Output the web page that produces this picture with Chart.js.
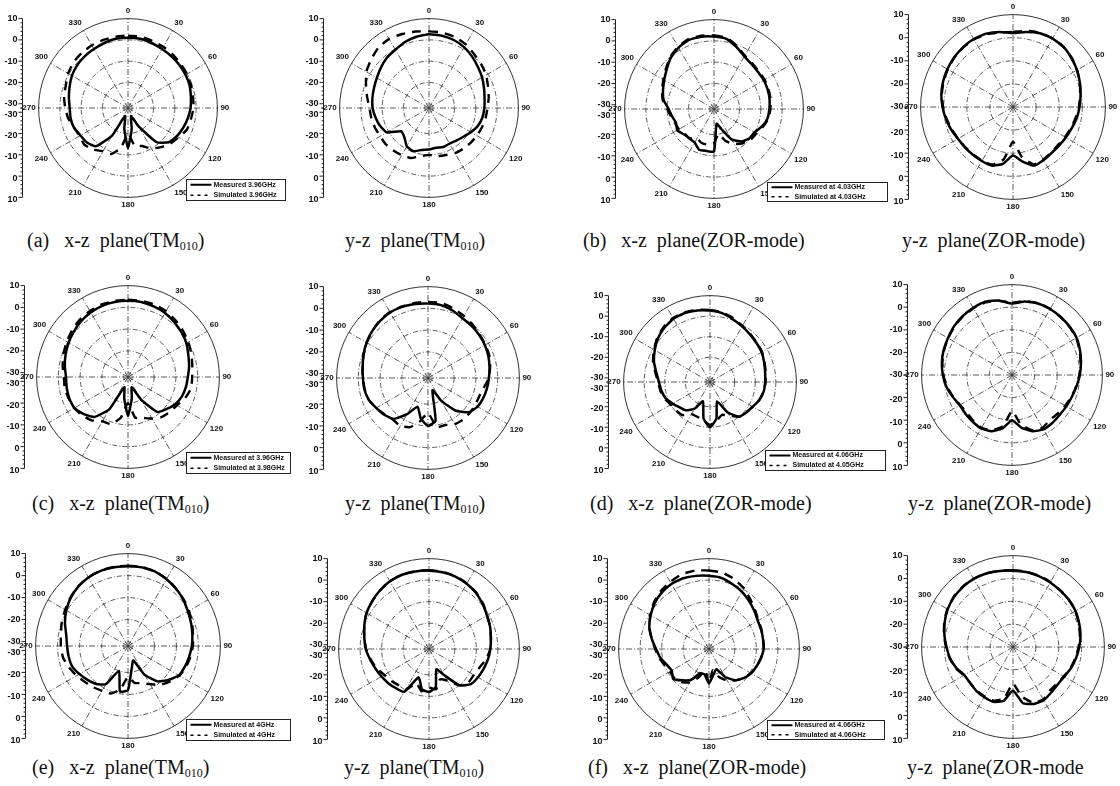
<!DOCTYPE html>
<html>
<head>
<meta charset="utf-8">
<script src="https://cdn.jsdelivr.net/npm/chart.js@4.4.0/dist/chart.umd.min.js"></script>
<style>
body { margin: 0; background: #fff; width: 1120px; height: 786px; position: relative; overflow: hidden; }
canvas { position: absolute; }
.cap { position: absolute; font-family: "Liberation Serif", "Times New Roman", serif; font-size: 20px; line-height: 24px; color: #111; white-space: pre; }
.cap sub { font-size: 12px; vertical-align: -3px; line-height: 0; }
</style>
</head>
<body>
<div class="cap" style="left:27px;top:228px">(a)   x-z  plane(TM<sub>010</sub>)</div>
<div class="cap" style="left:345px;top:228px">y-z  plane(TM<sub>010</sub>)</div>
<div class="cap" style="left:583px;top:228px">(b)   x-z  plane(ZOR-mode)</div>
<div class="cap" style="left:902px;top:228px">y-z  plane(ZOR-mode)</div>
<div class="cap" style="left:32px;top:491px">(c)   x-z  plane(TM<sub>010</sub>)</div>
<div class="cap" style="left:345px;top:491px">y-z  plane(TM<sub>010</sub>)</div>
<div class="cap" style="left:590px;top:491px">(d)   x-z  plane(ZOR-mode)</div>
<div class="cap" style="left:908px;top:491px">y-z  plane(ZOR-mode)</div>
<div class="cap" style="left:32px;top:755px">(e)   x-z  plane(TM<sub>010</sub>)</div>
<div class="cap" style="left:344px;top:755px">y-z  plane(TM<sub>010</sub>)</div>
<div class="cap" style="left:588px;top:755px">(f)   x-z  plane(ZOR-mode)</div>
<div class="cap" style="left:907px;top:755px">y-z  plane(ZOR-mode</div>
<script>
// angle categories (deg), clockwise from top
var angles = ['0', '10', '20', '30', '40', '50', '60', '70', '80', '90', '100', '110',
    '120', '130', '140', '150', '160', '170', '180', '190', '200', '210', '220', '230',
    '240', '250', '260', '270', '280', '290', '300', '310', '320', '330', '340', '350'];

// radial rings (dB)
var rings32 = [-30, -20, -10, 0, 10];
var rings30 = [-20, -10, 0, 10];
// left axis labels (dB)
var axisLabels = [-30, -20, -10, 0, 10];

// row 1
var meas_a = [1, 1, 0.5, 0, -0.3, -0.5, -0.8, -1.2, -2, -2.6, -3.5, -4.5, -5.5, -7, -11, -22, -28, -22, -13, -22, -28, -17, -8.5, -6.8, -6.2, -5, -4.6, -4.6, -3.8, -2.8, -1.6, -0.8, -0.3, 0, 0.5, 1];
var sim_a = [2, 2, 1.5, 1.2, 0.8, 0.3, 0, -0.5, -1, -1.2, -2, -2.5, -4.5, -6, -8, -10, -13, -14, -20, -13, -9, -8.5, -6.5, -5.2, -5.8, -5, -3.5, -2.5, -1.5, -0.9, 0.5, 1.4, 1.8, 2, 2, 2];
var meas_b = [2.7, 2.5, 2, 1, -0.5, -2, -3.2, -4.5, -5.5, -6, -6.5, -7.5, -9.3, -11, -12, -12.7, -12.5, -13, -12.5, -12, -10.4, -11.2, -14, -15, -9.1, -7.5, -6.5, -5.5, -5, -4.5, -3.7, -2.5, -1.2, -0.4, 1, 2];
var sim_b = [4, 4, 3.5, 2.5, 1, 0, -1, -2.5, -3.5, -4.5, -5, -5.5, -6, -6.5, -7, -7.5, -8.5, -9, -10, -9, -7, -6.4, -6, -5.5, -5.5, -5, -4.5, -4, -2.5, -0.5, 2, 3.5, 5, 5.5, 5, 4.5];
var meas_c = [2, 1.5, -1, -3.5, -4.5, -5, -5, -5.2, -5.5, -6, -6.5, -8, -10, -10.5, -12, -15.5, -22, -25, -12, -12, -11.6, -13.8, -14, -13.5, -12, -13, -12, -10.7, -8, -6.5, -5, -3, -0.5, 1.3, 2.5, 2.5];
var sim_c = [2.5, 2, -0.5, -3, -4, -4.5, -4.5, -4.8, -5, -5.5, -6, -7.5, -9, -9.5, -11, -13, -16, -20, -16, -15, -15, -16, -14, -14, -13, -12.5, -11.5, -10, -7.5, -6, -4.5, -2.5, 0, 1.8, 3, 3];
var meas_d = [2, 3, 4, 4.2, 4, 3, 2, 0.8, -0.3, -1.2, -2, -3, -3.6, -4, -4, -3.5, -3, -6, -9, -5, -3, -3, -3, -2.8, -2.5, -1.5, -0.5, 0.5, 1.5, 2.2, 2.8, 3.3, 3.7, 4, 3.8, 3];
var sim_d = [2.5, 3.5, 4.2, 4.3, 4, 3.2, 2, 0.8, -0.5, -1.5, -2.5, -3.3, -4, -4.5, -4.2, -3.8, -3.5, -8, -15, -7, -3.5, -3.2, -3.2, -3, -2.5, -1.8, -0.8, 0.3, 1.3, 2, 2.6, 3.2, 3.6, 3.8, 3.5, 2.8];

// row 2
var meas_e = [3, 3, 2.5, 2, 1, 0, -1, -2.5, -3.5, -4.5, -5, -5.7, -7, -9, -11, -20, -27, -22, -14, -22, -27, -15, -8, -5.5, -3.5, -3.3, -3.4, -3.5, -2.5, -1.5, -0.5, 0.5, 1.5, 2.2, 2.8, 3];
var sim_e = [3.5, 3.5, 3.5, 3, 2, 1, 0, -1, -2, -2.5, -2.5, -4, -6, -7, -8, -10, -12, -13, -20, -13, -9, -8.5, -6, -4.5, -3.5, -3, -2.5, -2.5, -1.5, -0.5, 0.5, 1.5, 2.5, 3, 3.5, 3.5];
var meas_f = [2.2, 2, 1, -0.3, -0.8, -1.3, -1.8, -2.5, -3.3, -4, -4.5, -5, -5.7, -7.5, -12.5, -20, -26, -12, -10, -13, -18, -12.8, -7.4, -5.7, -4.5, -3, -2.3, -2.1, -1.5, -0.5, 0.6, 1.5, 2.2, 2.8, 2.8, 2.5];
var sim_f = [3, 3, 2, 1, 0, -1, -1.5, -2, -3, -4, -6, -7, -7, -7, -7, -7.5, -9, -9, -16, -12, -8, -6.5, -7, -6, -4.5, -3, -2.5, -2, -1.5, -0.5, 0.5, 1.5, 2.5, 3, 3, 3];
var meas_g = [2.7, 2, 0.5, -0.8, -1.8, -2.5, -3, -4, -4.8, -5.2, -5.5, -6.5, -8, -9, -10, -15, -22, -14, -10, -14, -22, -17, -14, -12.8, -11, -9, -8, -7.2, -5.5, -3, -1, 1, 2.5, 3.5, 3.7, 3.3];
var sim_g = [3, 2.3, 1, -0.5, -1.5, -2.3, -2.8, -3.8, -4.5, -5, -5.5, -6.5, -8, -9, -10, -13, -15, -13, -11, -13, -14, -14, -11, -10.5, -10, -8.5, -7.5, -6.8, -5, -2.5, -0.5, 1.5, 3, 4, 4, 3.6];
var meas_h = [1.6, 3, 3.7, 3.7, 3.5, 3.3, 3, 2, 1, 0, -1, -1.8, -2.2, -2.5, -2.3, -2.2, -3.5, -6.4, -10, -6, -3.5, -2.7, -3, -3.2, -3.3, -2, -0.5, 0.6, 1.5, 2.2, 2.7, 3.5, 4, 4.3, 4.5, 3.5];
var sim_h = [2, 3.2, 3.8, 3.8, 3.5, 3.2, 2.8, 1.8, 0.8, -0.2, -1.2, -2, -2.8, -3.5, -4, -3, -4, -8, -14, -7, -4, -3, -3.5, -4, -3.5, -2.2, -0.8, 0.4, 1.3, 2, 2.6, 3.3, 3.8, 4.1, 4.2, 3.3];

// row 3
var meas_i = [4.3, 4.3, 4, 3, 2, 0.8, -0.6, -1.5, -2.3, -3, -3.8, -4.5, -5.3, -8, -11, -17, -25, -22, -12, -11, -20, -12, -9.5, -8, -6.5, -5, -4.6, -4.3, -3.5, -1.5, 0.4, 2, 3.2, 4, 4.3, 4.3];
var sim_i = [4.5, 4.5, 4, 3.2, 2, 1, 0, -1, -2, -2.5, -3.2, -4, -5, -7, -9, -12, -14, -15, -18, -12, -9, -8.5, -7.5, -6.5, -5, -3.5, -2, -1.5, -1, 0, 1, 2.2, 3.3, 4, 4.5, 4.5];
var meas_j = [4.4, 4.2, 3.8, 3, 2, 0.5, -0.9, -1.8, -2.8, -3.5, -4.2, -5, -5.7, -6.6, -10, -18, -22, -14, -12, -13, -18, -9, -8.2, -7.3, -6.5, -5.5, -4.2, -2.6, -1.5, 0, 1.5, 2.5, 3.5, 4.3, 4.7, 4.6];
var sim_j = [4.6, 4.4, 4, 3.2, 2.2, 0.8, -0.8, -1.8, -2.8, -3.5, -5, -7, -8, -8, -10, -15, -17, -13, -14, -12, -15, -10, -10, -9, -8, -6, -4.5, -2.8, -1.5, 0, 1.5, 2.5, 3.5, 4.3, 4.7, 4.7];
var meas_k = [2, 1.5, 0, -1.3, -3, -4.5, -5.8, -6.2, -6.5, -6.6, -7.5, -8.5, -9.4, -11, -13, -17, -22, -20, -16, -20, -20, -15.5, -13, -10.3, -12, -11, -9, -7.4, -5, -2.5, -0.7, 1, 2.2, 2.9, 3, 2.5];
var sim_k = [4.5, 4, 2.5, 0.5, -2, -4, -5.5, -6, -6.5, -6.6, -7.5, -8.5, -9.5, -11, -13, -15, -18, -22, -16, -22, -18, -14, -12, -11, -11, -10, -8.5, -7, -5, -2.5, -0.5, 1.5, 3, 4, 5, 5];
var meas_l = [3.4, 3.3, 3, 2.6, 2.2, 2, 1.6, 0.8, 0, -1, -2, -3, -4.1, -4.5, -4, -3.1, -3.5, -5, -11, -6, -4.5, -4.7, -5, -5.5, -5.4, -3.5, -2, -0.9, 0.5, 1.8, 3, 3.8, 4.2, 4.4, 4.2, 3.8];
var sim_l = [3.6, 3.5, 3.2, 2.8, 2.3, 2, 1.5, 0.6, -0.3, -1.3, -2.3, -3.2, -4.3, -5, -5, -3.5, -4, -8, -14, -7, -5, -5, -5.2, -5.5, -5.2, -3.2, -1.8, -0.7, 0.7, 2, 3.2, 4, 4.4, 4.5, 4.3, 3.9];

var measNames = ['Measured 3.96GHz', 'Measured at 4.03GHz', 'Measured at 3.96GHz', 'Measured at 4.06GHz', 'Measured at 4GHz', 'Measured at 4.06GHz'];
var simNames = ['Simulated 3.96GHz', 'Simulated at 4.03GHz', 'Simulated at 3.98GHz', 'Simulated at 4.05GHz', 'Simulated at 4GHz', 'Simulated at 4.06GHz'];

// draws the dB axis on the left of each polar plot, from the radial scale
var leftAxis = {
    id: 'leftAxis',
    afterDraw: function (chart, args, o) {
        var r = chart.scales.r;
        var ctx = chart.ctx;
        var x = Math.round(r.xCenter - o.offset) + 0.5;
        var full = r.getDistanceFromCenterForValue(r.max);
        ctx.save();
        ctx.strokeStyle = '#222';
        ctx.lineWidth = 1;
        ctx.beginPath();
        ctx.moveTo(x, r.yCenter - full);
        ctx.lineTo(x, r.yCenter + full);
        for (var v = r.max; v >= r.min; v -= 2) {
            var d = r.getDistanceFromCenterForValue(v);
            var len = (v % 10 === 0) ? 4 : 2;
            ctx.moveTo(x, r.yCenter - d); ctx.lineTo(x - len, r.yCenter - d);
            ctx.moveTo(x, r.yCenter + d); ctx.lineTo(x - len, r.yCenter + d);
        }
        ctx.stroke();
        ctx.font = 'bold 9px "Liberation Sans", Arial, sans-serif';
        ctx.fillStyle = '#111';
        ctx.textAlign = 'right';
        ctx.textBaseline = 'middle';
        o.labels.forEach(function (v) {
            if (v < r.min) return;
            var d = r.getDistanceFromCenterForValue(v);
            ctx.fillText(String(v), x - 5, r.yCenter - d);
            if (d > 0.5) ctx.fillText(String(v), x - 5, r.yCenter + d + 2);
        });
        ctx.restore();
    }
};

// small boxed legend at the lower right of the x-z plots
var boxLegend = {
    id: 'boxLegend',
    afterDraw: function (chart, args, o) {
        if (!o.display) return;
        var r = chart.scales.r;
        var ctx = chart.ctx;
        var x = Math.round(r.xCenter + o.dx) + 0.5;
        var y = Math.round(r.yCenter + o.dy) + 0.5;
        ctx.save();
        ctx.fillStyle = '#fff';
        ctx.fillRect(x, y, o.w, o.h);
        ctx.strokeStyle = '#222';
        ctx.lineWidth = 1;
        ctx.strokeRect(x, y, o.w, o.h);
        ctx.font = 'bold 7px "Liberation Sans", Arial, sans-serif';
        ctx.textBaseline = 'middle';
        chart.data.datasets.forEach(function (ds, i) {
            var ly = y + o.h * (i * 2 + 1) / 4;
            ctx.strokeStyle = '#000';
            ctx.lineWidth = i === 0 ? 2 : 1.6;
            ctx.setLineDash(i === 0 ? [] : [3, 4]);
            ctx.beginPath();
            ctx.moveTo(x + 4, ly);
            ctx.lineTo(x + 25, ly);
            ctx.stroke();
            ctx.setLineDash([]);
            ctx.fillStyle = '#111';
            ctx.fillText(ds.label, x + 27, ly);
        });
        ctx.restore();
    }
};

// panel layout: centre, radius, axis offset, legend box
var panels = [
    { meas: meas_a, sim: sim_a, min: -32, rings: rings32, cx: 128, cy: 108, R: 88, off: 106, leg: 0, lg: [58, 71, 99, 21] },
    { meas: meas_b, sim: sim_b, min: -32, rings: rings32, cx: 429, cy: 108, R: 88, off: 106 },
    { meas: meas_c, sim: sim_c, min: -32, rings: rings32, cx: 714, cy: 109, R: 88, off: 99, leg: 1, lg: [53, 73, 120, 19] },
    { meas: meas_d, sim: sim_d, min: -30, rings: rings30, cx: 1013, cy: 107, R: 91, off: 105 },
    { meas: meas_e, sim: sim_e, min: -32, rings: rings32, cx: 128, cy: 377, R: 90, off: 104, leg: 2, lg: [58, 75, 104, 21] },
    { meas: meas_f, sim: sim_f, min: -32, rings: rings32, cx: 428, cy: 378, R: 90, off: 105 },
    { meas: meas_g, sim: sim_g, min: -32, rings: rings32, cx: 710, cy: 382, R: 85, off: 102, leg: 3, lg: [55, 68, 120, 20] },
    { meas: meas_h, sim: sim_h, min: -30, rings: rings30, cx: 1012, cy: 375, R: 89, off: 105 },
    { meas: meas_i, sim: sim_i, min: -32, rings: rings32, cx: 128, cy: 646, R: 91, off: 103, leg: 4, lg: [58, 73, 104, 21] },
    { meas: meas_j, sim: sim_j, min: -32, rings: rings32, cx: 429, cy: 649, R: 89, off: 102 },
    { meas: meas_k, sim: sim_k, min: -32, rings: rings32, cx: 709, cy: 649, R: 89, off: 102, leg: 5, lg: [58, 71, 117, 19] },
    { meas: meas_l, sim: sim_l, min: -30, rings: rings30, cx: 1013, cy: 647, R: 90, off: 106 }
];

var makePanel = function (p) {
    var canvas = document.createElement('canvas');
    canvas.width = 380;
    canvas.height = 240;
    canvas.style.left = (p.cx - 140) + 'px';
    canvas.style.top = (p.cy - 120) + 'px';
    document.body.appendChild(canvas);
    var B = p.R + 14;
    var A = B + 20;
    var hasLeg = p.leg !== undefined;
    new Chart(canvas.getContext('2d'), {
        type: 'radar',
        data: {
            labels: angles,
            datasets: [{
                label: hasLeg ? measNames[p.leg] : 'Measured',
                data: p.meas,
                borderColor: '#000',
                borderWidth: 2.5,
                pointRadius: 0,
                fill: false,
                tension: 0.15
            }, {
                label: hasLeg ? simNames[p.leg] : 'Simulated',
                data: p.sim,
                borderColor: '#000',
                borderWidth: 2.4,
                borderDash: [9, 7],
                pointRadius: 0,
                fill: false,
                tension: 0.15
            }]
        },
        options: {
            responsive: false,
            animation: false,
            devicePixelRatio: 1,
            layout: { padding: { left: 140 - A, right: 240 - A, top: 120 - B, bottom: 120 - B } },
            plugins: {
                legend: { display: false },
                tooltip: { enabled: false },
                leftAxis: { offset: p.off, labels: axisLabels },
                boxLegend: hasLeg ? { display: true, dx: p.lg[0], dy: p.lg[1], w: p.lg[2], h: p.lg[3] } : { display: false }
            },
            scales: {
                r: {
                    min: p.min,
                    max: 10,
                    startAngle: 0,
                    afterBuildTicks: function (s) {
                        s.ticks = p.rings.map(function (v) { return { value: v }; });
                    },
                    ticks: { display: false },
                    grid: {
                        circular: true,
                        color: '#333',
                        lineWidth: function (c) { return c.tick && c.tick.value === 10 ? 1 : 0.8; }
                    },
                    border: {
                        dash: function (c) { return c.tick && c.tick.value === 10 ? [] : [5, 2, 1, 2]; }
                    },
                    angleLines: {
                        color: function (c) { return c.index % 3 === 0 ? '#333' : 'rgba(0,0,0,0)'; },
                        lineWidth: function (c) { return c.index % 3 === 0 ? 0.8 : 0; },
                        borderDash: [6, 2, 1, 2]
                    },
                    pointLabels: {
                        padding: 3,
                        color: '#111',
                        font: { family: '"Liberation Sans", Arial, sans-serif', size: 8, weight: 'bold' },
                        callback: function (l, i) { return i % 3 === 0 ? l : ''; }
                    }
                }
            }
        },
        plugins: [leftAxis, boxLegend]
    });
};

window.onload = function () {
    panels.forEach(makePanel);
};
</script>
</body>
</html>
